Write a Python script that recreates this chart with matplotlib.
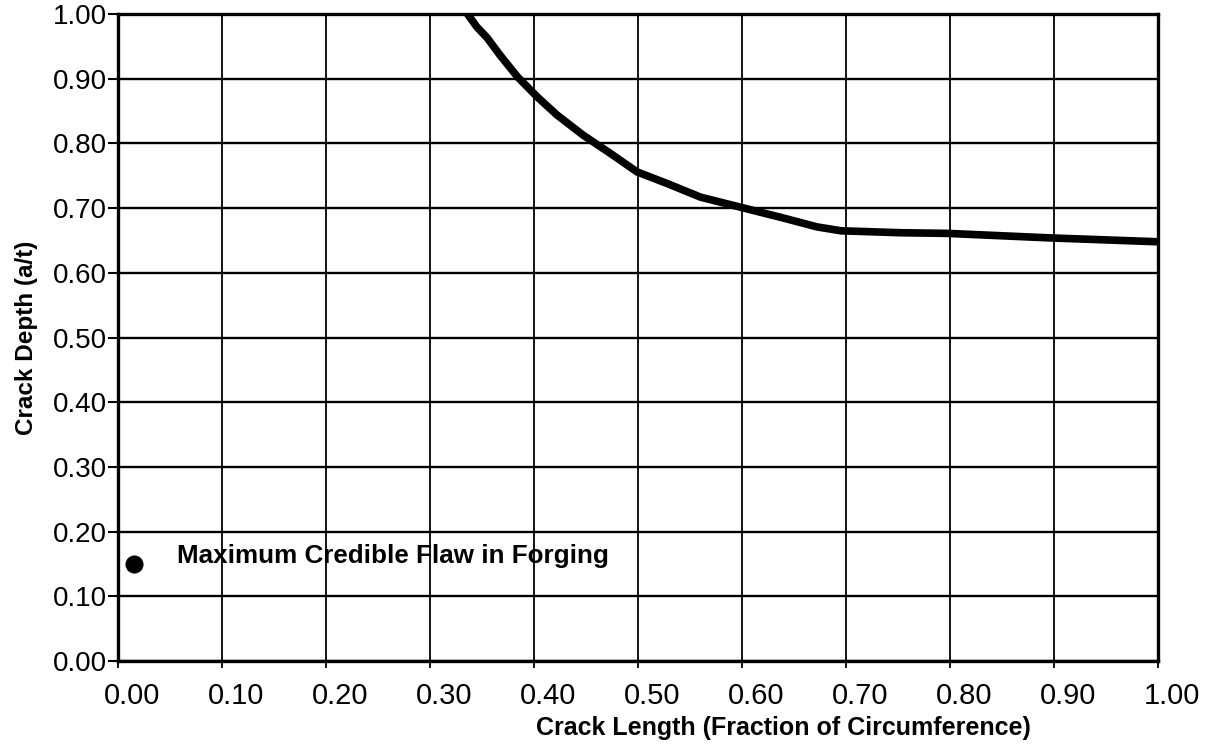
import numpy as np
import matplotlib
matplotlib.use("Agg")
import matplotlib.pyplot as plt
import matplotlib.transforms as mtransforms

plt.rcParams['font.family'] = ['Liberation Sans', 'DejaVu Sans']

# failure curve
crack_len = [0.336, 0.345, 0.355, 0.367, 0.384, 0.403, 0.422, 0.447, 0.473,
             0.499, 0.528, 0.560, 0.597, 0.639, 0.672, 0.695, 0.752, 0.797,
             0.896, 1.00]
crack_depth = [1.00, 0.980, 0.963, 0.937, 0.903, 0.872, 0.844, 0.813, 0.785,
               0.756, 0.738, 0.717, 0.702, 0.685, 0.671, 0.665, 0.662, 0.661,
               0.654, 0.648]

flaw_x = [0.015]
flaw_y = [0.15]
flaw_label = "Maximum Credible Flaw in Forging"

ticks = np.round(np.arange(0, 1.01, 0.1), 2)
tick_labels = ["%.2f" % v for v in ticks]

fig = plt.figure(figsize=(12.09, 7.51), dpi=100)
ax = fig.add_axes([0.0976, 0.1198, 0.8604, 0.8615])

for v in ticks:
    ax.axhline(v, color='black', lw=1.7, zorder=1)
    ax.axvline(v, color='black', lw=1.3, zorder=1)

ax.plot(crack_len, crack_depth, color='black', lw=5.5, solid_capstyle='butt',
        solid_joinstyle='round', zorder=3)
ax.plot(flaw_x, flaw_y, 'o', color='black', ms=12, zorder=3)
ax.text(0.057, 0.163, flaw_label, fontsize=18.7, fontweight='bold',
        va='center', ha='left', zorder=4)

ax.set_xlim(0, 1)
ax.set_ylim(0, 1)
ax.set_xticks(ticks)
ax.set_xticklabels(tick_labels, fontsize=21)
ax.set_yticks(ticks)
ax.set_yticklabels(tick_labels, fontsize=20)
ax.tick_params(axis='x', length=5, width=1.3, pad=10)
ax.tick_params(axis='y', length=7, width=1.5, pad=1)

# scan has x labels shifted a little to the right of their ticks
offset = mtransforms.ScaledTranslation(0.14, 0, fig.dpi_scale_trans)
for lab in ax.get_xticklabels():
    lab.set_transform(lab.get_transform() + offset)

for s in ax.spines.values():
    s.set_linewidth(2.4)
    s.set_color('black')

ax.set_ylabel("Crack Depth (a/t)", fontsize=17.5, fontweight='bold')
ax.yaxis.set_label_coords(-0.077, 0.5)
ax.set_xlabel("Crack Length (Fraction of Circumference)", fontsize=18,
              fontweight='bold')
ax.xaxis.set_label_coords(0.64, -0.085)

fig.savefig("out.png", dpi=100)
